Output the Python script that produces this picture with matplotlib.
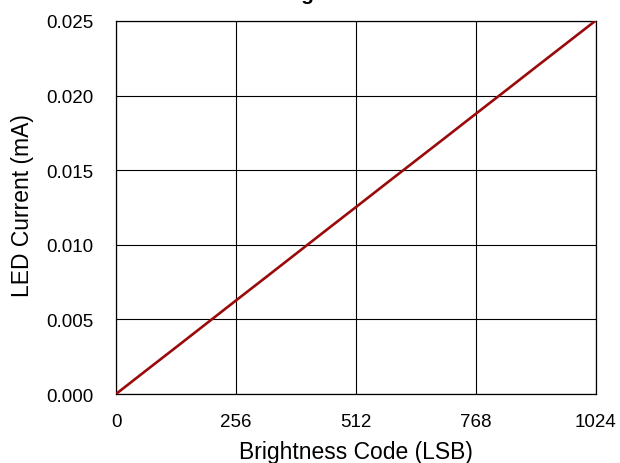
import matplotlib
matplotlib.use("Agg")
import matplotlib.pyplot as plt

plt.rcParams['font.family'] = ['Liberation Sans', 'DejaVu Sans']

codes = [0, 64, 128, 192, 256, 320, 384, 448, 512, 576, 640, 704, 768, 832, 896, 960, 1023]
current_mA = [0.0000, 0.00157, 0.00313, 0.00470, 0.00627, 0.00783, 0.00940, 0.01097,
              0.01253, 0.01410, 0.01566, 0.01722, 0.01879, 0.02035, 0.02192, 0.02348, 0.02502]
xticks = [0, 256, 512, 768, 1024]
yticks = [0.000, 0.005, 0.010, 0.015, 0.020, 0.025]

W, H = 620, 464
fig = plt.figure(figsize=(6.2, 4.64), dpi=100)
ax = fig.add_axes([116/W, 1-395/H, 480/W, 373/H])

ax.plot(codes, current_mA, color='#9b0a0a', linewidth=1.9, zorder=3)
ax.set_xlim(0, 1024)
ax.set_ylim(0, 0.025)
ax.set_xticks(xticks)
ax.set_yticks(yticks)
ax.set_yticklabels([f"{v:.3f}" for v in yticks])
ax.grid(True, color='black', linewidth=0.8)
ax.tick_params(length=0, labelsize=13.5)
ax.tick_params(axis='x', pad=14)
ax.tick_params(axis='y', pad=16.5)
for s in ax.spines.values():
    s.set_color('black')
    s.set_linewidth(0.9)

fig.text(356/W, 1-459.5/H, 'Brightness Code (LSB)', ha='center', va='baseline', fontsize=16.5)
fig.text(29/W, 1-206/H, 'LED Current (mA)', ha='center', va='baseline', fontsize=16.5,
         rotation=90, rotation_mode='anchor')
fig.text(356/W, 1+0.5/H, 'Brightness Code', ha='center', va='baseline',
         fontsize=15, fontweight='bold')

fig.savefig('out.png', dpi=100)
